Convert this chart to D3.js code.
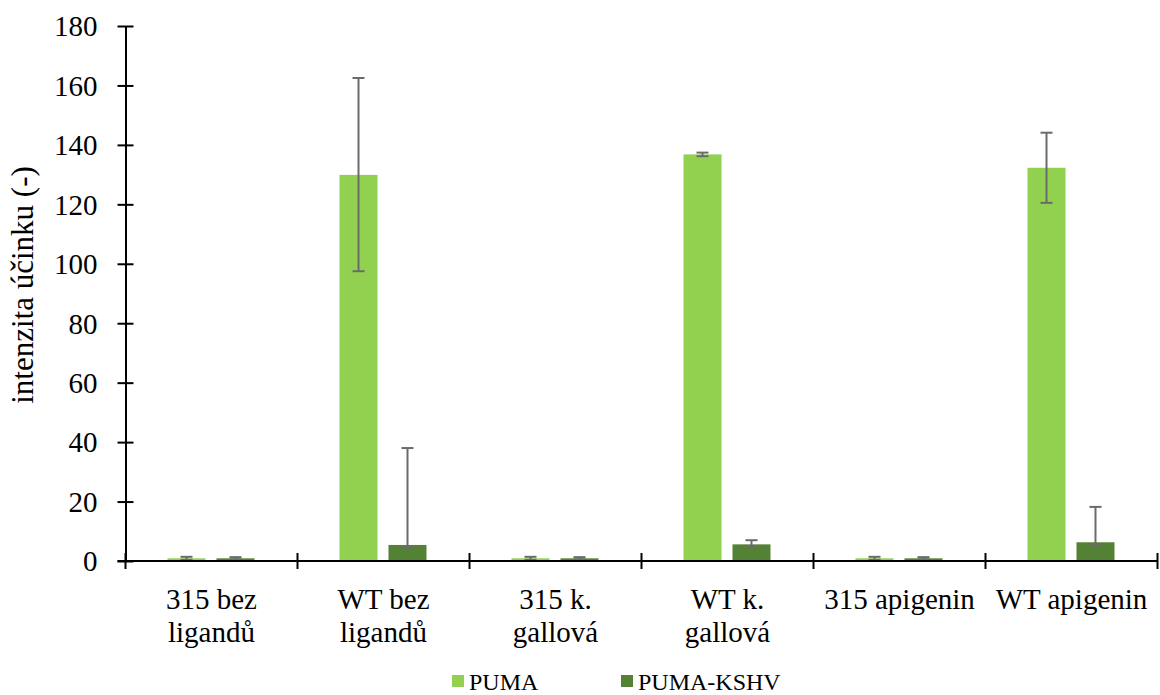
<!DOCTYPE html>
<html>
<head>
<meta charset="utf-8">
<script src="https://cdn.jsdelivr.net/npm/d3@7"></script>
<style>
  body { margin: 0; background: #fff; }
</style>
</head>
<body>
<div class="container"></div>
<script>
// categories (tick labels, already split on lines as in the picture)
var categories = ["315 bez ligandů", "WT bez ligandů", "315 k. gallová", "WT k. gallová", "315 apigenin", "WT apigenin"];
var categoryLines = [["315 bez", "ligandů"], ["WT bez", "ligandů"], ["315 k.", "gallová"], ["WT k.", "gallová"], ["315 apigenin"], ["WT apigenin"]];
var seriesNames = ["PUMA", "PUMA-KSHV"];

// values
var puma = [0.9, 129.9, 0.9, 136.8, 0.9, 132.3];
var pumaErrUp = [0.5, 32.6, 0.5, 0.6, 0.5, 11.8];
var pumaErrDown = [0.5, 32.4, 0.5, 0.6, 0.5, 11.8];
var kshv = [0.9, 5.4, 0.9, 5.6, 0.9, 6.3];
var kshvErrUp = [0.4, 32.6, 0.4, 1.4, 0.4, 11.9];
var kshvErrDown = [0.4, 0.9, 0.4, 0.9, 0.4, 0.9];

var yTicks = [0, 20, 40, 60, 80, 100, 120, 140, 160, 180];

var FONT = "'Liberation Serif', 'Times New Roman', Times, serif";

var width = 1160, height = 695;
var plot = {left: 125.5, right: 1157.5, top: 26, bottom: 561};

var svg = d3.select("div.container").append("svg")
    .attr("width", width)
    .attr("height", height)
    .attr("font-family", FONT);

var color = d3.scaleOrdinal().domain(seriesNames).range(["#92d050", "#548235"]);

var x0 = d3.scaleBand()
    .domain(categories)
    .range([plot.left, plot.right])
    .padding(0);

var x1 = d3.scaleBand()
    .domain(seriesNames)
    .range([42, x0.bandwidth() - 43])
    .paddingInner(0.224);

var y = d3.scaleLinear()
    .domain([0, 180])
    .range([plot.bottom, plot.top]);

var rows = categories.map(function(c, i) {
    return {
        cat: c,
        bars: [
            {name: "PUMA", v: puma[i], up: pumaErrUp[i], down: pumaErrDown[i]},
            {name: "PUMA-KSHV", v: kshv[i], up: kshvErrUp[i], down: kshvErrDown[i]}
        ]
    };
});

// bars
var groups = svg.selectAll(".grp")
    .data(rows)
    .enter().append("g")
    .attr("class", "grp")
    .attr("transform", function(d) { return "translate(" + x0(d.cat) + ",0)"; });

groups.selectAll("rect")
    .data(function(d) { return d.bars; })
    .enter().append("rect")
    .attr("x", function(d) { return x1(d.name); })
    .attr("width", x1.bandwidth())
    .attr("y", function(d) { return y(d.v); })
    .attr("height", function(d) { return y(0) - y(d.v); })
    .attr("fill", function(d) { return color(d.name); });

// error bars
var err = groups.selectAll(".err")
    .data(function(d) { return d.bars; })
    .enter().append("g")
    .attr("class", "err")
    .attr("stroke", "#6b6b6b")
    .attr("stroke-width", 2);

function cx(d) { return x1(d.name) + x1.bandwidth() / 2; }

err.append("line")
    .attr("x1", cx).attr("x2", cx)
    .attr("y1", function(d) { return y(d.v + d.up); })
    .attr("y2", function(d) { return y(d.v - d.down); });

err.append("line")
    .attr("x1", function(d) { return cx(d) - 6; })
    .attr("x2", function(d) { return cx(d) + 6; })
    .attr("y1", function(d) { return y(d.v + d.up); })
    .attr("y2", function(d) { return y(d.v + d.up); });

err.append("line")
    .attr("x1", function(d) { return cx(d) - 6; })
    .attr("x2", function(d) { return cx(d) + 6; })
    .attr("y1", function(d) { return y(d.v - d.down); })
    .attr("y2", function(d) { return y(d.v - d.down); });

// y axis (cross ticks)
var yAxis = svg.append("g")
    .attr("transform", "translate(" + plot.left + ",0)")
    .call(d3.axisLeft(y).tickValues(yTicks).tickSize(8).tickPadding(20).tickSizeOuter(0));
yAxis.attr("font-family", FONT).attr("font-size", 29);
yAxis.select(".domain").attr("stroke", "#000").attr("stroke-width", 2);
yAxis.selectAll(".tick line").attr("x2", 8).attr("x1", -8).attr("stroke", "#000").attr("stroke-width", 2);
yAxis.selectAll(".tick text").attr("fill", "#000").attr("dy", "0.34em");

// x axis line and cross ticks
svg.append("line")
    .attr("x1", plot.left - 8).attr("x2", plot.right)
    .attr("y1", y(0)).attr("y2", y(0))
    .attr("stroke", "#000").attr("stroke-width", 2);

var tickXs = categories.map(function(c) { return x0(c); }).concat([plot.right]);
svg.selectAll(".xtick")
    .data(tickXs)
    .enter().append("line")
    .attr("class", "xtick")
    .attr("x1", function(d) { return d; }).attr("x2", function(d) { return d; })
    .attr("y1", y(0) - 8).attr("y2", y(0) + 8)
    .attr("stroke", "#000").attr("stroke-width", 2);

// x labels
var xl = svg.selectAll(".xlab")
    .data(categories)
    .enter().append("text")
    .attr("class", "xlab")
    .attr("text-anchor", "middle")
    .attr("font-family", FONT)
    .attr("font-size", 29)
    .attr("transform", function(d) { return "translate(" + (x0(d) + x0.bandwidth() / 2) + ",609)"; });

xl.selectAll("tspan")
    .data(function(d, i) { return categoryLines[i]; })
    .enter().append("tspan")
    .attr("x", 0)
    .attr("y", function(d, i) { return i * 33; })
    .text(function(d) { return d; });

// y title
svg.append("text")
    .attr("transform", "translate(33,285) rotate(-90)")
    .attr("text-anchor", "middle")
    .attr("font-family", FONT)
    .attr("font-size", 31)
    .text("intenzita účinku (-)");

// legend
var legendX = [452, 621];
var legend = svg.selectAll(".leg")
    .data(seriesNames)
    .enter().append("g")
    .attr("class", "leg")
    .attr("transform", function(d, i) { return "translate(" + legendX[i] + ",675)"; });

legend.append("rect")
    .attr("width", 12).attr("height", 12)
    .attr("fill", function(d) { return color(d); });

legend.append("text")
    .attr("x", 17).attr("y", 15)
    .attr("font-family", FONT)
    .attr("font-size", 24)
    .text(function(d) { return d; });
</script>
</body>
</html>
